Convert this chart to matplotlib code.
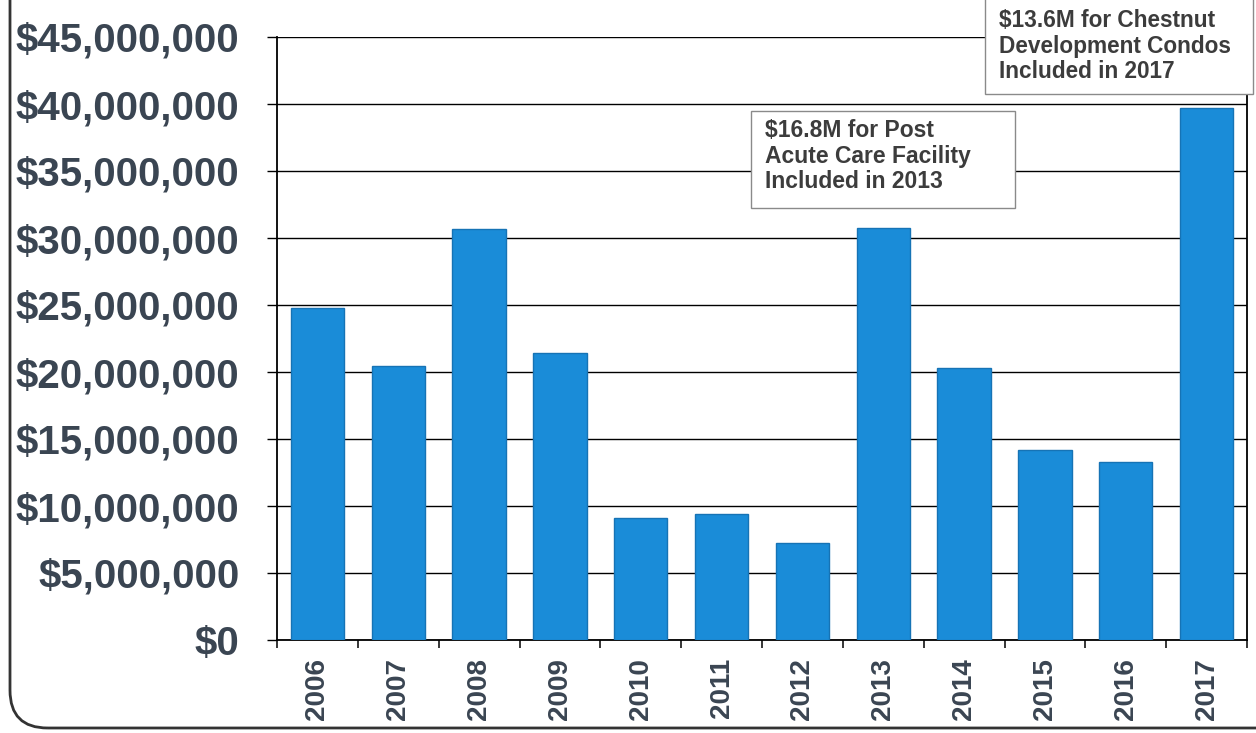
import matplotlib
matplotlib.use("Agg")
import matplotlib.pyplot as plt
from matplotlib.patches import Rectangle, FancyBboxPatch
from matplotlib.ticker import FuncFormatter, FixedLocator

years = ["2006", "2007", "2008", "2009", "2010", "2011", "2012",
         "2013", "2014", "2015", "2016", "2017"]
values = [24.8e6, 20.45e6, 30.7e6, 21.4e6, 9.1e6, 9.4e6, 7.25e6,
          30.75e6, 20.3e6, 14.2e6, 13.3e6, 39.7e6]
y_ticks = [0, 5e6, 10e6, 15e6, 20e6, 25e6, 30e6, 35e6, 40e6, 45e6]
note_2013 = "$16.8M for Post\nAcute Care Facility\nIncluded in 2013"
note_2017 = "$13.6M for Chestnut\nDevelopment Condos\nIncluded in 2017"

W, H = 1256, 733
fig = plt.figure(figsize=(W / 100, H / 100), dpi=100)
fig.patch.set_facecolor("white")

ax = fig.add_axes([277 / W, 1 - 640 / H, (1247 - 277) / W, (640 - 37) / H])
text_color = "#3a4552"
font = "Liberation Sans"

x = list(range(len(years)))
ax.bar(x, values, width=0.66, color="#1a8cd8", edgecolor="#1673b5",
       linewidth=1.0, zorder=3)

ax.set_xlim(-0.5, len(years) - 0.5)
ax.set_ylim(0, 45e6)
ax.set_yticks(y_ticks)
ax.yaxis.set_major_formatter(FuncFormatter(lambda v, p: f"${v:,.0f}"))
ax.grid(axis="y", color="black", linewidth=1.0, zorder=1)
ax.set_axisbelow(True)

ax.set_xticks(x)
ax.set_xticklabels(years, rotation=90)
ax.xaxis.set_minor_locator(FixedLocator([i + 0.5 for i in range(-1, len(years))]))
ax.tick_params(axis="x", which="major", length=0, pad=13)
ax.tick_params(axis="x", which="minor", length=6, width=1.1, color="black", direction="out")
ax.tick_params(axis="y", which="major", length=7, width=1.0, color="black",
               direction="out", pad=20)

for lab in ax.get_xticklabels():
    lab.set_fontfamily(font)
    lab.set_fontweight("bold")
    lab.set_fontsize(20)
    lab.set_color(text_color)
    lab.set_va("top")
for lab in ax.get_yticklabels():
    lab.set_fontfamily(font)
    lab.set_fontweight("bold")
    lab.set_fontsize(29)
    lab.set_color(text_color)

for s in ["left", "bottom", "right"]:
    ax.spines[s].set_color("black")
    ax.spines[s].set_linewidth(1.3)
ax.spines["top"].set_visible(False)

# annotation boxes (figure pixel coords)
def fig_box(x0, y0, x1, y1):
    r = Rectangle((x0 / W, 1 - y1 / H), (x1 - x0) / W, (y1 - y0) / H,
                  transform=fig.transFigure, facecolor="white",
                  edgecolor="#8a8a8a", linewidth=1.0, zorder=10)
    fig.patches.append(r)

fig_box(751, 111, 1015, 208)
fig.text(765 / W, 1 - 119 / H, note_2013, ha="left", va="top",
         fontsize=16.5, fontweight="bold", family=font, color="#3c3c3c",
         linespacing=1.15, zorder=11)

fig_box(985, -5, 1253, 94)
fig.text(999 / W, 1 - 9 / H, note_2017, ha="left", va="top",
         fontsize=16.3, fontweight="bold", family=font, color="#3c3c3c",
         linespacing=1.15, zorder=11)

# outer rounded frame of the scanned page
frame = FancyBboxPatch((10 / W, 1 - 728 / H), 1400 / W, 900 / H,
                       boxstyle="round,pad=0,rounding_size=0.03",
                       transform=fig.transFigure, facecolor="none",
                       edgecolor="#333333", linewidth=2.0, zorder=0,
                       mutation_aspect=W / H)
fig.patches.append(frame)

fig.savefig("out.png", dpi=100, facecolor="white")
